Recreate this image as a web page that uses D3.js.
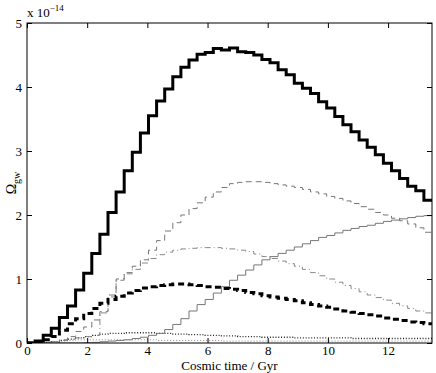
<!DOCTYPE html>
<html>
<head>
<meta charset="utf-8">
<script src="https://cdn.jsdelivr.net/npm/d3@7"></script>
<style>
  body { margin: 0; background: #fff; }
  text { font-family: "Liberation Serif", "Times New Roman", serif; fill: #000; }
</style>
</head>
<body>
<div id="chart"></div>
<script>
// cosmic time axis: 50 equal bins up to the present age
var tMax = 13.46;
var nBins = 50;

// Omega_gw per time bin, in units of 1e-14
var totalGW = [0, 0.03, 0.12, 0.23, 0.40, 0.58, 0.83, 1.09, 1.40, 1.70,
  2.04, 2.36, 2.69, 2.98, 3.28, 3.55, 3.78, 3.97, 4.16, 4.31,
  4.42, 4.51, 4.54, 4.60, 4.58, 4.61, 4.55, 4.54, 4.50, 4.43,
  4.38, 4.27, 4.19, 4.06, 3.98, 3.90, 3.77, 3.67, 3.54, 3.41,
  3.30, 3.17, 3.06, 2.94, 2.81, 2.69, 2.57, 2.45, 2.38, 2.23];
var thickDashed = [0, 0, 0.05, 0.10, 0.20, 0.30, 0.38, 0.46, 0.54, 0.62,
  0.68, 0.73, 0.78, 0.82, 0.86, 0.88, 0.90, 0.91, 0.92, 0.92,
  0.91, 0.90, 0.88, 0.87, 0.85, 0.84, 0.82, 0.79, 0.77, 0.74,
  0.72, 0.70, 0.68, 0.66, 0.63, 0.60, 0.58, 0.56, 0.53, 0.50,
  0.48, 0.46, 0.44, 0.42, 0.39, 0.37, 0.35, 0.33, 0.32, 0.30];
var grayDashed = [0, 0, 0, 0, 0.05, 0.10, 0.18, 0.25, 0.36, 0.49,
  0.75, 1.00, 1.10, 1.20, 1.30, 1.45, 1.60, 1.75, 1.88, 2.00,
  2.10, 2.19, 2.28, 2.36, 2.43, 2.49, 2.51, 2.52, 2.52, 2.51,
  2.49, 2.47, 2.45, 2.43, 2.40, 2.36, 2.33, 2.29, 2.26, 2.22,
  2.18, 2.13, 2.09, 2.04, 2.00, 1.95, 1.91, 1.86, 1.80, 1.73];
var grayDashDot = [0, 0, 0.01, 0.02, 0.04, 0.06, 0.08, 0.10, 0.12, 0.47,
  0.72, 0.98, 1.08, 1.15, 1.25, 1.32, 1.38, 1.42, 1.45, 1.47,
  1.48, 1.49, 1.49, 1.49, 1.48, 1.47, 1.45, 1.43, 1.39, 1.35,
  1.32, 1.28, 1.24, 1.20, 1.15, 1.10, 1.05, 1.00, 0.95, 0.90,
  0.85, 0.80, 0.75, 0.71, 0.67, 0.62, 0.58, 0.54, 0.50, 0.47];
var graySolid = [0, 0, 0, 0, 0, 0, 0, 0.005, 0.01, 0.02,
  0.03, 0.04, 0.05, 0.07, 0.09, 0.12, 0.15, 0.21, 0.29, 0.38,
  0.50, 0.60, 0.68, 0.78, 0.88, 0.98, 1.06, 1.14, 1.22, 1.30,
  1.35, 1.40, 1.45, 1.50, 1.55, 1.60, 1.65, 1.68, 1.72, 1.76,
  1.79, 1.82, 1.84, 1.87, 1.90, 1.92, 1.94, 1.96, 1.98, 1.99];
var blackDotted = [0, 0, 0.01, 0.02, 0.04, 0.06, 0.08, 0.10, 0.12, 0.14,
  0.15, 0.15, 0.16, 0.16, 0.16, 0.16, 0.15, 0.15, 0.14, 0.14,
  0.13, 0.13, 0.12, 0.12, 0.11, 0.11, 0.10, 0.10, 0.10, 0.09,
  0.09, 0.09, 0.09, 0.08, 0.08, 0.08, 0.08, 0.08, 0.08, 0.08,
  0.07, 0.07, 0.07, 0.07, 0.07, 0.07, 0.07, 0.07, 0.07, 0.07];
var grayDotted = [0, 0, 0.01, 0.02, 0.03, 0.04, 0.05, 0.05, 0.05, 0.05,
  0.05, 0.05, 0.05, 0.05, 0.05, 0.05, 0.04, 0.04, 0.04, 0.04,
  0.04, 0.04, 0.04, 0.04, 0.03, 0.03, 0.03, 0.03, 0.03, 0.03,
  0.03, 0.03, 0.03, 0.03, 0.03, 0.03, 0.03, 0.03, 0.03, 0.03,
  0.03, 0.03, 0.03, 0.03, 0.03, 0.03, 0.03, 0.03, 0.03, 0.03];

var xTicks = [0, 2, 4, 6, 8, 10, 12];
var yTicks = [0, 1, 2, 3, 4, 5];

var svgWidth = 436, svgHeight = 373;
var margin = {top: 23, right: 4, bottom: 30, left: 27};
var width = svgWidth - margin.left - margin.right;
var height = svgHeight - margin.top - margin.bottom;

var svg = d3.select("#chart").append("svg")
  .attr("width", svgWidth)
  .attr("height", svgHeight);

var chartGroup = svg.append("g")
  .attr("transform", `translate(${margin.left}, ${margin.top})`);

var xScale = d3.scaleLinear().domain([0, tMax]).range([0, width]);
var yScale = d3.scaleLinear().domain([0, 5]).range([height, 0]);

chartGroup.append("clipPath").attr("id", "plotClip")
  .append("rect").attr("width", width).attr("height", height);

// each bin becomes a step from its left edge; repeat last value at the right edge
var binW = tMax / nBins;
function steps(values) {
  var pts = values.map((v, i) => [i * binW, v]);
  pts.push([tMax, values[values.length - 1]]);
  return pts;
}

var line = d3.line()
  .x(d => xScale(d[0]))
  .y(d => yScale(d[1]))
  .curve(d3.curveStepAfter);

var series = [
  {values: grayDotted, color: "#888", w: 1, dash: "1,2"},
  {values: blackDotted, color: "#222", w: 1.3, dash: "1,1.8"},
  {values: graySolid, color: "#777", w: 1, dash: null},
  {values: grayDashDot, color: "#888", w: 1, dash: "6,3,1,3"},
  {values: grayDashed, color: "#777", w: 1, dash: "6,4"},
  {values: thickDashed, color: "#000", w: 3, dash: "6,4"},
  {values: totalGW, color: "#000", w: 3, dash: null}
];

var plot = chartGroup.append("g").attr("clip-path", "url(#plotClip)");
series.forEach(function(s) {
  plot.append("path")
    .datum(steps(s.values))
    .attr("d", line)
    .attr("fill", "none")
    .attr("stroke", s.color)
    .attr("stroke-width", s.w)
    .attr("stroke-dasharray", s.dash)
    .attr("stroke-linejoin", "miter");
});

// axes with inward ticks on all four sides
var bottomAxis = d3.axisBottom(xScale).tickValues(xTicks).tickSizeInner(-5).tickSizeOuter(0).tickPadding(3).tickFormat(d3.format("d"));
var topAxis = d3.axisTop(xScale).tickValues(xTicks).tickSizeInner(-5).tickSizeOuter(0).tickFormat("");
var leftAxis = d3.axisLeft(yScale).tickValues(yTicks).tickSizeInner(-5).tickSizeOuter(0).tickPadding(5).tickFormat(d3.format("d"));
var rightAxis = d3.axisRight(yScale).tickValues(yTicks).tickSizeInner(-5).tickSizeOuter(0).tickFormat("");

function styleAxis(g) {
  g.select(".domain").remove();
  g.selectAll("line").attr("stroke", "#000");
  g.selectAll("text").style("font-size", "13px").attr("fill", "#000");
}

chartGroup.append("g").attr("transform", `translate(0, ${height})`).call(bottomAxis).call(styleAxis);
chartGroup.append("g").call(topAxis).call(styleAxis);
chartGroup.append("g").call(leftAxis).call(styleAxis);
chartGroup.append("g").attr("transform", `translate(${width}, 0)`).call(rightAxis).call(styleAxis);

chartGroup.append("rect")
  .attr("width", width).attr("height", height)
  .attr("fill", "none").attr("stroke", "#000").attr("stroke-width", 1);

// exponent label
var expo = svg.append("text").attr("x", 27).attr("y", 17).style("font-size", "13px");
expo.append("tspan").text("x 10");
expo.append("tspan").attr("dy", -6).style("font-size", "9px").text("\u221214");

// axis titles
chartGroup.append("text")
  .attr("x", width / 2).attr("y", height + 27)
  .attr("text-anchor", "middle")
  .style("font-size", "13px")
  .text("Cosmic time / Gyr");

var yLabel = svg.append("text")
  .attr("transform", "translate(16, 183) rotate(-90)")
  .attr("text-anchor", "middle")
  .style("font-size", "14px");
yLabel.append("tspan").text("\u03A9");
yLabel.append("tspan").attr("dy", 4).style("font-size", "10px").text("gw");
</script>
</body>
</html>
